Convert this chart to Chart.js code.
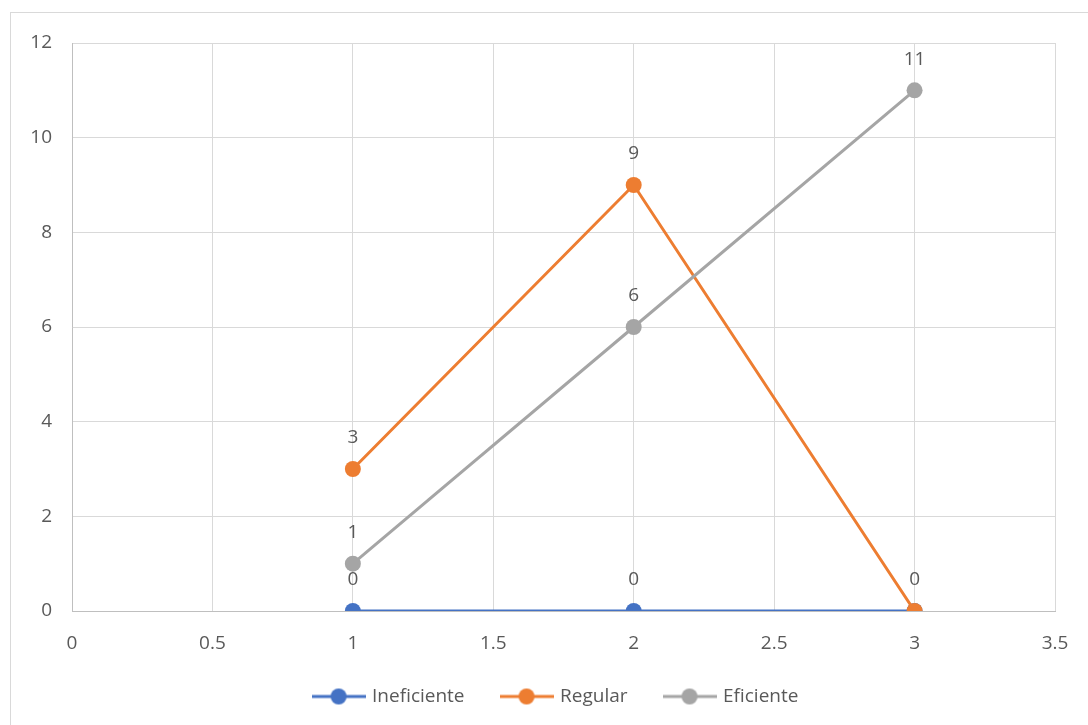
<!DOCTYPE html>
<html>
<head>
<meta charset="utf-8">
<script src="https://cdn.jsdelivr.net/npm/chart.js@4.4.0/dist/chart.umd.min.js"></script>
<style>
  html, body { margin: 0; padding: 0; background: #fff; overflow: hidden; }
  #wrap { position: relative; width: 1088px; height: 725px; }
  #frame { position: absolute; left: 10px; top: 12px; width: 1100px; height: 740px; border: 1px solid #D9D9D9; box-sizing: border-box; pointer-events: none; }
  canvas { position: absolute; left: 0; top: 0; }
</style>
</head>
<body>
<div id="wrap">
  <div id="frame"></div>
  <canvas id="c" width="1088" height="725"></canvas>
</div>
<script>
const xValues = [1, 2, 3];
const ineficiente = [0, 0, 0];
const regular = [3, 9, 0];
const eficiente = [1, 6, 11];
const seriesNames = ['Ineficiente', 'Regular', 'Eficiente'];
const seriesColors = ['#4472C4', '#ED7D31', '#A5A5A5'];
const xTicks = [0, 0.5, 1, 1.5, 2, 2.5, 3, 3.5];
const yTicks = [0, 2, 4, 6, 8, 10, 12];

const FONT = '"Open Sans", sans-serif';
const TEXT = '#595959';
const FS = 19;

function pts(vals) { return xValues.map((x, i) => ({ x: x, y: vals[i] })); }

function legendIcon(color) {
  const c = document.createElement('canvas');
  c.width = 54; c.height = 18;
  const g = c.getContext('2d');
  g.strokeStyle = color; g.lineWidth = 3;
  g.beginPath(); g.moveTo(0, 9); g.lineTo(54, 9); g.stroke();
  g.fillStyle = color;
  g.beginPath(); g.arc(27, 9, 8, 0, Math.PI * 2); g.fill();
  return c;
}
const icons = seriesColors.map(legendIcon);

const allSeries = [ineficiente, regular, eficiente];
const datasets = allSeries.map((vals, i) => ({
  label: seriesNames[i],
  data: pts(vals),
  borderColor: seriesColors[i],
  backgroundColor: seriesColors[i],
  borderWidth: 3,
  pointRadius: 8,
  pointHoverRadius: 8,
  pointBorderWidth: 0,
  showLine: true,
  fill: false,
  tension: 0,
  order: 3 - i
}));

const dataLabels = {
  id: 'dataLabels',
  afterDatasetsDraw(chart) {
    const ctx = chart.ctx;
    ctx.save();
    ctx.font = FS + 'px ' + FONT;
    ctx.fillStyle = TEXT;
    ctx.textAlign = 'center';
    ctx.textBaseline = 'middle';
    const seen = new Set();
    chart.data.datasets.forEach((ds, di) => {
      const meta = chart.getDatasetMeta(di);
      meta.data.forEach((pt, i) => {
        const txt = String(ds.data[i].y);
        const key = Math.round(pt.x) + ':' + Math.round(pt.y) + ':' + txt;
        if (seen.has(key)) return;
        seen.add(key);
        ctx.fillText(txt, pt.x, pt.y - 31);
      });
    });
    ctx.restore();
  }
};

const legendShift = {
  id: 'legendShift',
  afterLayout(chart) {
    if (chart.legend) { chart.legend.left += 58; }
  }
};

new Chart(document.getElementById('c'), {
  type: 'scatter',
  data: { datasets: datasets },
  plugins: [dataLabels, legendShift],
  options: {
    responsive: false,
    animation: false,
    devicePixelRatio: 1,
    layout: { padding: { top: 43, right: 33, left: 0, bottom: 9 } },
    plugins: {
      tooltip: { enabled: false },
      legend: {
        position: 'bottom',
        labels: {
          usePointStyle: true,
          pointStyleWidth: 48,
          padding: 38,
          color: TEXT,
          font: { family: FONT, size: FS },
          sort: (a, b) => a.datasetIndex - b.datasetIndex,
          generateLabels(chart) {
            return chart.data.datasets.map((ds, i) => ({
              text: ds.label,
              fillStyle: ds.backgroundColor,
              strokeStyle: ds.borderColor,
              lineWidth: 0,
              pointStyle: icons[i],
              datasetIndex: i,
              fontColor: TEXT,
              hidden: false
            }));
          }
        }
      }
    },
    scales: {
      x: {
        type: 'linear',
        min: 0, max: 3.5,
        afterBuildTicks(scale) { scale.ticks = xTicks.map(v => ({ value: v })); },
        ticks: { color: TEXT, font: { family: FONT, size: FS }, padding: 21, callback: v => String(v) },
        grid: { color: '#D9D9D9', lineWidth: 1, drawTicks: false },
        border: { color: '#BFBFBF', width: 1 },
        afterFit(scale) { scale.height = 38; scale.paddingRight = 0; scale.paddingLeft = 0; }
      },
      y: {
        type: 'linear',
        min: 0, max: 12,
        afterBuildTicks(scale) { scale.ticks = yTicks.map(v => ({ value: v })); },
        ticks: { color: TEXT, font: { family: FONT, size: FS }, padding: 20 },
        grid: { color: '#D9D9D9', lineWidth: 1, drawTicks: false },
        border: { color: '#BFBFBF', width: 1 },
        afterFit(scale) { scale.width = 72; scale.paddingTop = 0; scale.paddingBottom = 0; }
      }
    }
  }
});
</script>
</body>
</html>
